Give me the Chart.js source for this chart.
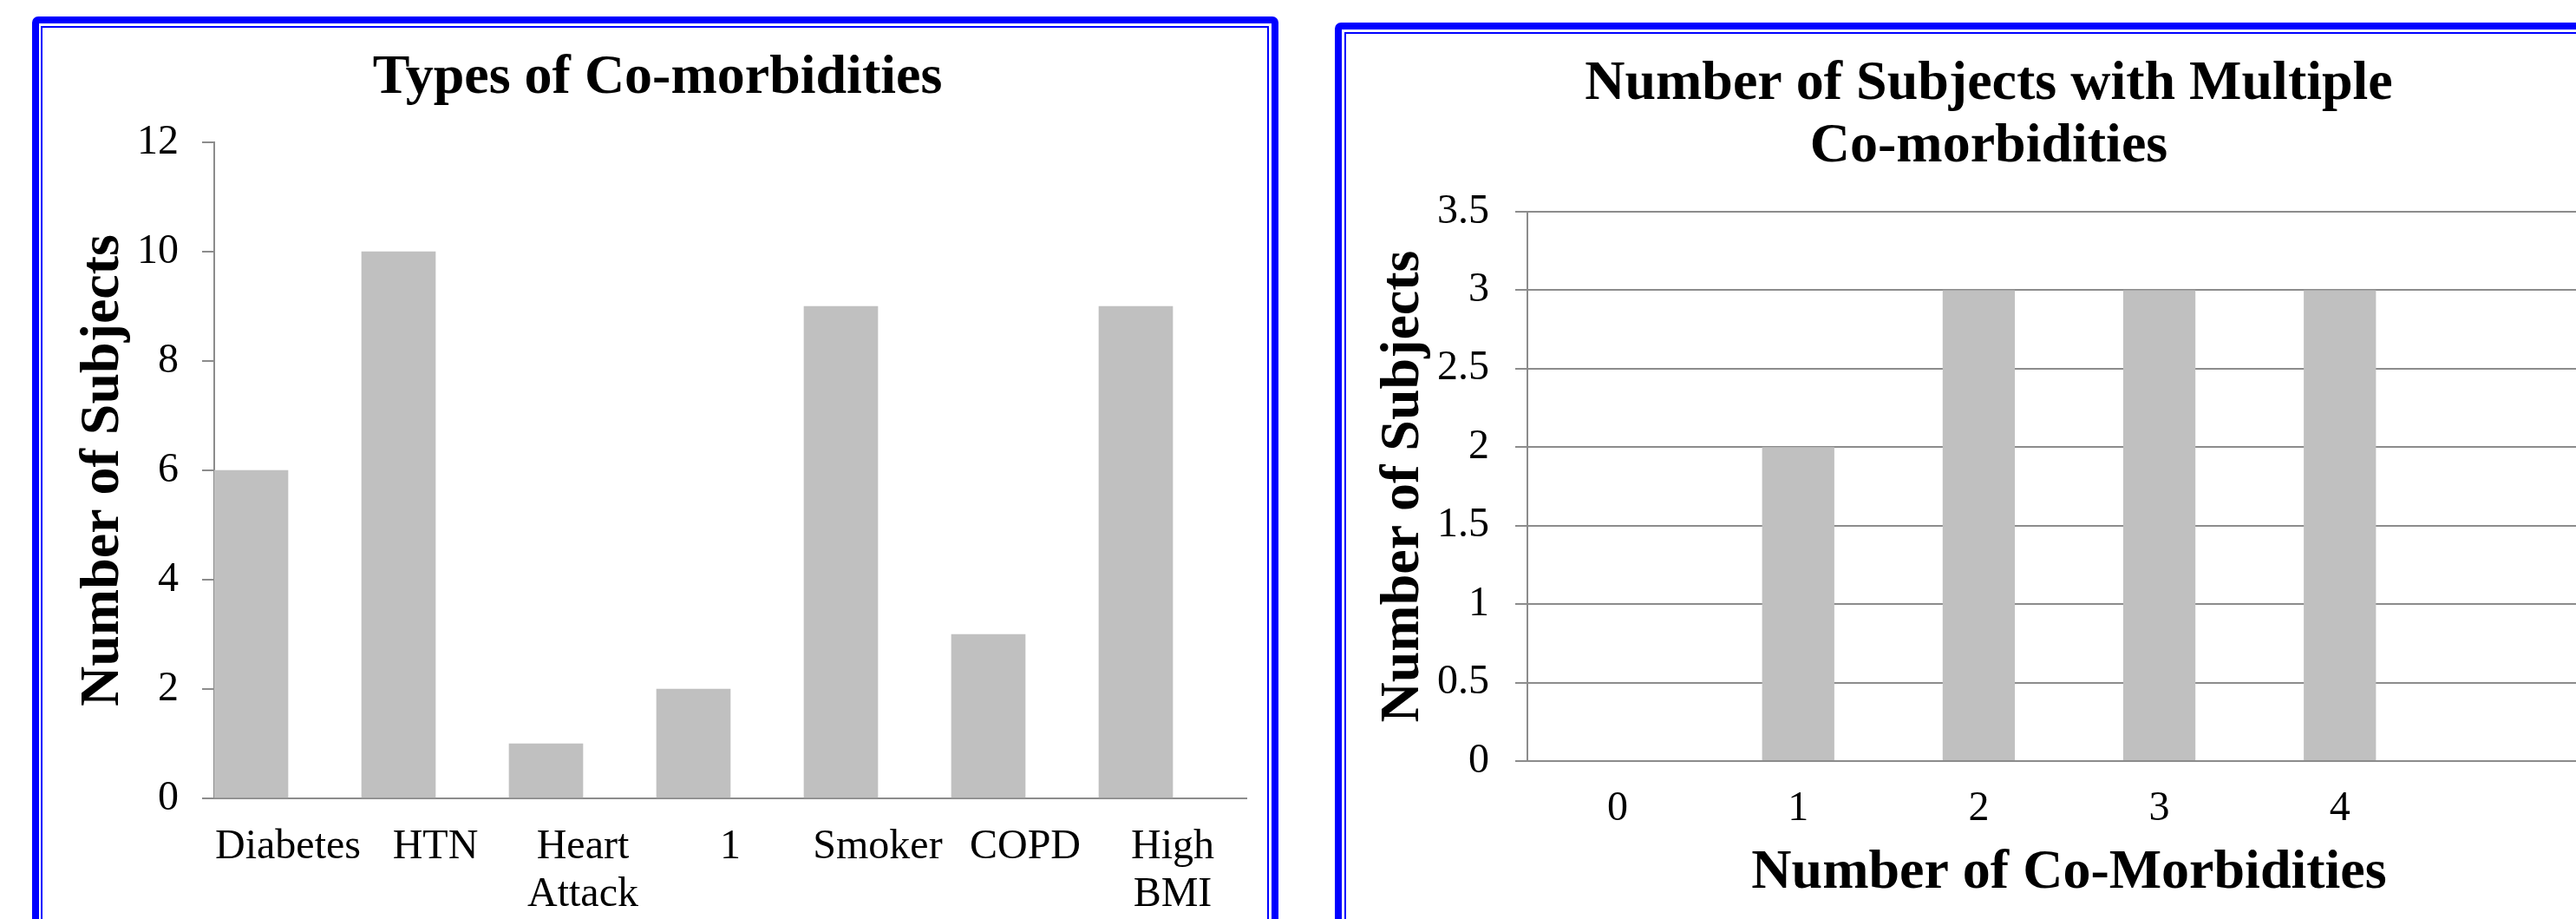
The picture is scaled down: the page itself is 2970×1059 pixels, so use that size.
<!DOCTYPE html>
<html>
<head>
<meta charset="utf-8">
<script src="https://cdn.jsdelivr.net/npm/chart.js@4/dist/chart.umd.min.js"></script>
<style>
  html, body { margin: 0; padding: 0; background: #ffffff; width: 2970px; height: 1059px; overflow: hidden; }
  .frame { position: absolute; box-sizing: border-box; border: 8px solid #0000ff; border-radius: 7px; }
  .inner { position: absolute; box-sizing: border-box; border: 2px solid #0000ff; }
  canvas { position: absolute; }
</style>
</head>
<body>
<!-- double blue frames around each chart -->
<div class="frame" style="left:37px; top:19px; width:1437px; height:1200px;"></div>
<div class="inner" style="left:47px; top:30px; width:1416px; height:1200px;"></div>
<div class="frame" style="left:1539px; top:26px; width:1600px; height:1200px;"></div>
<div class="inner" style="left:1550px; top:37px; width:1600px; height:1200px;"></div>

<canvas id="typesChart" width="1410" height="1100" style="left:50px; top:33px; width:1410px; height:1100px;"></canvas>
<canvas id="multiChart" width="1495" height="1060" style="left:1555px; top:40px; width:1495px; height:1060px;"></canvas>

<script>
// Types of co-morbidities
const typeLabels = ['Diabetes', 'HTN', ['Heart', 'Attack'], '1', 'Smoker', 'COPD', ['High', 'BMI']];
const typeCounts = [6, 10, 1, 2, 9, 3, 9];
const typeSecondSeries = [null, null, null, null, null, null, null];
const typeAxisMin = 0;
const typeAxisMax = 12;
const typeAxisStep = 2;

// Subjects with multiple co-morbidities
const comorbidityCounts = ['0', '1', '2', '3', '4', ''];
const subjectsPerCount = [0, 2, 3, 3, 3, 0];
const multiAxisMin = 0;
const multiAxisMax = 3.5;
const multiAxisStep = 0.5;

const SERIF = "'Liberation Serif', 'Times New Roman', Times, serif";
const BAR_GREY = '#c0c0c0';
const AXIS_GREY = '#8c8c8c';

Chart.defaults.font.family = SERIF;
Chart.defaults.color = '#000000';

const common = {
  responsive: false,
  maintainAspectRatio: false,
  devicePixelRatio: 1,
  animation: false,
  events: []
};

// plain number labels: 3 rather than 3.0
const plainNumber = v => String(Number(Number(v).toFixed(2)));

new Chart(document.getElementById('typesChart'), {
  type: 'bar',
  data: {
    labels: typeLabels,
    datasets: [
      { data: typeCounts, backgroundColor: BAR_GREY, borderWidth: 0, categoryPercentage: 1.0, barPercentage: 1.0 },
      { data: typeSecondSeries, backgroundColor: BAR_GREY, borderWidth: 0, categoryPercentage: 1.0, barPercentage: 1.0 }
    ]
  },
  options: Object.assign({}, common, {
    layout: { padding: { left: 29, top: 0, right: 23, bottom: 0 } },
    plugins: {
      legend: { display: false },
      tooltip: { enabled: false },
      title: {
        display: true,
        text: 'Types of Co-morbidities',
        color: '#000000',
        font: { family: SERIF, size: 64, weight: 'bold', lineHeight: 1.125 },
        padding: { top: 21, bottom: 38 }
      }
    },
    scales: {
      x: {
        ticks: { color: '#000000', font: { family: SERIF, size: 48, lineHeight: 1.15 }, padding: 29, maxRotation: 0, autoSkip: false },
        grid: { display: false, drawTicks: false },
        border: { display: true, color: AXIS_GREY, width: 2 },
        afterFit: s => { s.height = 213; }
      },
      y: {
        min: typeAxisMin,
        max: typeAxisMax,
        ticks: { stepSize: typeAxisStep, color: '#000000', font: { family: SERIF, size: 48 }, padding: 27, callback: plainNumber },
        grid: { display: true, drawOnChartArea: false, drawTicks: true, tickLength: 14, color: AXIS_GREY, lineWidth: 2 },
        border: { display: true, color: AXIS_GREY, width: 2 },
        title: {
          display: true,
          text: 'Number of Subjects',
          color: '#000000',
          font: { family: SERIF, size: 64, weight: 'bold', lineHeight: 1.2 },
          padding: { top: 1.6, bottom: 0 }
        },
        afterFit: s => { s.width = 168; }
      }
    }
  })
});

new Chart(document.getElementById('multiChart'), {
  type: 'bar',
  data: {
    labels: comorbidityCounts,
    datasets: [
      { data: subjectsPerCount, backgroundColor: BAR_GREY, borderWidth: 0, categoryPercentage: 1.0, barPercentage: 0.4 }
    ]
  },
  options: Object.assign({}, common, {
    layout: { padding: { left: 21, top: 0, right: 40, bottom: 0 } },
    plugins: {
      legend: { display: false },
      tooltip: { enabled: false },
      title: {
        display: true,
        text: ['Number of Subjects with Multiple', 'Co-morbidities'],
        color: '#000000',
        font: { family: SERIF, size: 64, weight: 'bold', lineHeight: 1.125 },
        padding: { top: 21, bottom: 39 }
      }
    },
    scales: {
      x: {
        ticks: { color: '#000000', font: { family: SERIF, size: 48, lineHeight: 1.15 }, padding: 28, maxRotation: 0, autoSkip: false },
        grid: { display: false, drawTicks: false },
        border: { display: true, color: AXIS_GREY, width: 2 },
        title: {
          display: true,
          text: 'Number of Co-Morbidities',
          color: '#000000',
          font: { family: SERIF, size: 64, weight: 'bold', lineHeight: 1.2 },
          padding: { top: 0, bottom: 55.6 }
        },
        afterFit: s => { s.height = 223; }
      },
      y: {
        min: multiAxisMin,
        max: multiAxisMax,
        ticks: { stepSize: multiAxisStep, color: '#000000', font: { family: SERIF, size: 48 }, padding: 30, callback: plainNumber },
        grid: { display: true, drawOnChartArea: true, drawTicks: true, tickLength: 14, color: AXIS_GREY, lineWidth: 2 },
        border: { display: true, color: AXIS_GREY, width: 2 },
        title: {
          display: true,
          text: 'Number of Subjects',
          color: '#000000',
          font: { family: SERIF, size: 64, weight: 'bold', lineHeight: 1.2 },
          padding: { top: 3.6, bottom: 0 }
        },
        afterFit: s => { s.width = 185; }
      }
    }
  })
});
</script>
</body>
</html>
